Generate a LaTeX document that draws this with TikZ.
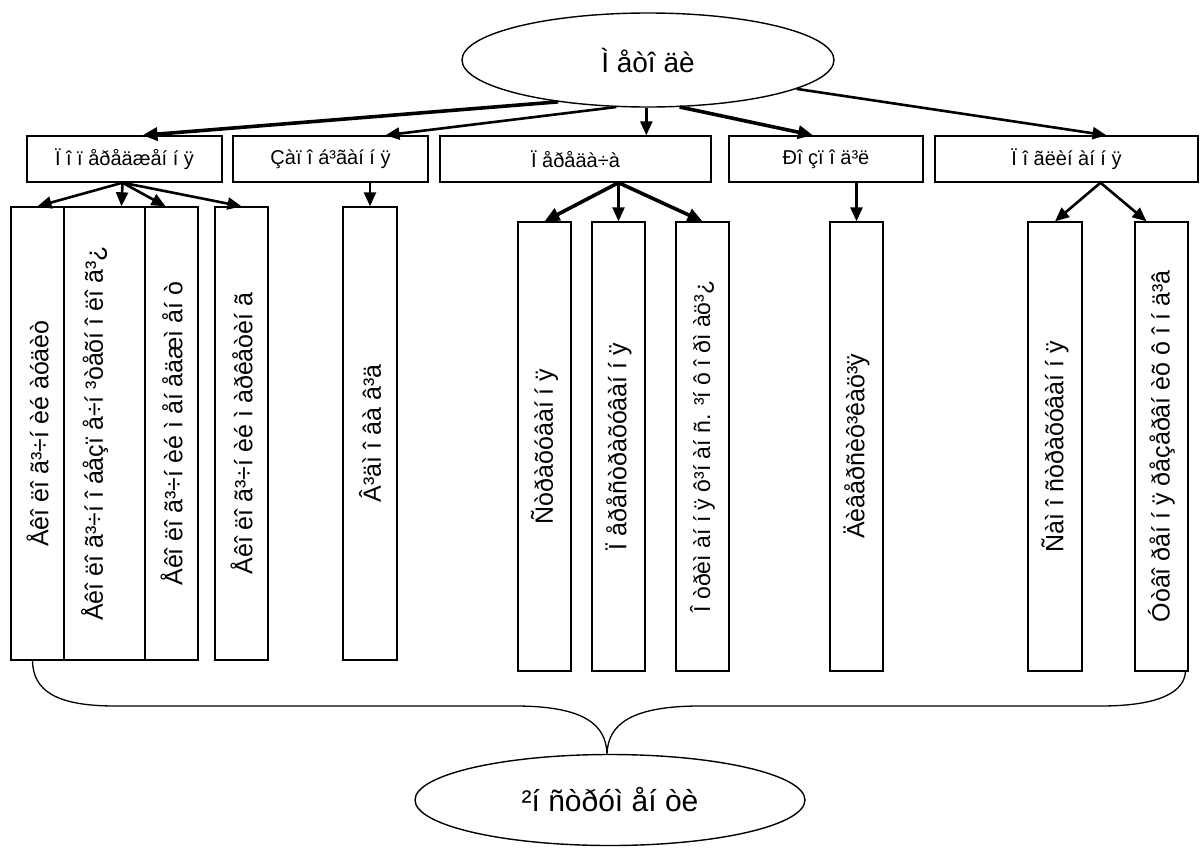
\documentclass[tikz,border=0pt]{standalone}
\usepackage{fontspec}
\setmainfont{Liberation Sans}
\usetikzlibrary{shapes.geometric,arrows.meta}
\begin{document}
\begin{tikzpicture}[x=1pt,y=-1pt,
  oval/.style={draw,line width=1.4pt,ellipse,inner sep=0pt,font=\fontsize{28}{32}\selectfont},
  hbox/.style={draw,line width=1.4pt,rectangle,inner sep=0pt,minimum height=46pt,font=\fontsize{20}{24}\selectfont},
  vbox/.style={draw,line width=1.4pt,rectangle,inner sep=0pt},
  vtext/.style={rotate=90,inner sep=0pt,font=\fontsize{25}{29}\selectfont},
  arr/.style={line width=2.6pt,-{Triangle[length=14pt,width=12pt]}},
  arrb/.style={line width=3.6pt,-{Triangle[length=15pt,width=13pt]}},
  brace/.style={line width=1.3pt}]
\useasboundingbox (0,0) rectangle (1202,849);
% top and bottom ellipses
\node[oval,minimum width=372pt,minimum height=94pt] (top) at (648,60) {Ì åòî äè};
\node[oval,minimum width=390pt,minimum height=91pt,font=\fontsize{30}{34}\selectfont] (bot) at (610,800) {²í ñòðóì åí òè};
% first row
\node[hbox,minimum width=195pt] (b1) at (124.5,159) {Ï î ï åðåäæåí í ÿ};
\node[hbox,minimum width=195pt] (b2) at (330.5,159) {Çàï î á³ãàí í ÿ};
\node[hbox,minimum width=271pt] (b3) at (575.5,159) {Ï åðåäà÷à};
\node[hbox,minimum width=194pt] (b4) at (826,159) {Ðî çï î ä³ë};
\node[hbox,minimum width=263pt] (b5) at (1066.5,159) {Ï î ãëèí àí í ÿ};
% vertical boxes
\node[vbox,minimum width=53pt,minimum height=453pt] (vA) at (37.5,433.5) {};
\node[vbox,minimum width=81pt,minimum height=453pt] (vB) at (104.5,433.5) {};
\node[vbox,minimum width=53pt,minimum height=453pt] (vC) at (171.5,433.5) {};
\node[vbox,minimum width=53pt,minimum height=453pt] (vD) at (241.5,433.5) {};
\node[vbox,minimum width=54pt,minimum height=453pt] (vE) at (370,433.5) {};
\node[vbox,minimum width=53pt,minimum height=449pt] (vF) at (544.5,446.5) {};
\node[vbox,minimum width=53pt,minimum height=449pt] (vG) at (618.5,446.5) {};
\node[vbox,minimum width=53pt,minimum height=449pt] (vH) at (702.5,446.5) {};
\node[vbox,minimum width=53pt,minimum height=449pt] (vI) at (856.5,446.5) {};
\node[vbox,minimum width=54pt,minimum height=449pt] (vJ) at (1055,446.5) {};
\node[vbox,minimum width=53pt,minimum height=449pt] (vK) at (1161.5,446.5) {};
\node[vtext] (tA) at (vA) {Åêî ëî ã³÷í èé àóäèò};
\node[vtext] (tB) at ([xshift=-10pt]vB.center) {Åêî ëî ã³÷í î  áåçï å÷í ³òåõí î ëî ã³¿};
\node[vtext] (tC) at (vC) {Åêî ëî ã³÷í èé ì åí åäæì åí ò};
\node[vtext] (tD) at (vD) {Åêî ëî ã³÷í èé ì àðêåòèí ã};
\node[vtext] (tE) at (vE) {Â³äì î âà â³ä};
\node[vtext] (tF) at (vF) {Ñòðàõóâàí í ÿ};
\node[vtext] (tG) at (vG) {Ï åðåñòðàõóâàí í ÿ};
\node[vtext,font=\fontsize{23}{27}\selectfont] (tH) at (vH) {Î òðèì àí í ÿ ô³í àí ñ. ³í ô î ðì àö³¿};
\node[vtext] (tI) at (vI) {Äèâåðñèô³êàö³ÿ};
\node[vtext] (tJ) at (vJ) {Ñàì î ñòðàõóâàí í ÿ};
\node[vtext] (tK) at (vK) {Óòâî ðåí í ÿ ðåçåðâí èõ ô î í ä³â};
% arrows from the top ellipse
\draw[arrb] (top.205) -- ([xshift=18pt]b1.north);
\draw[arr] (top.236) -- ([xshift=55pt]b2.north);
\draw[arr] (top.268) -- (top.268 |- b3.north);
\draw[arrb] (top.304) -- ([xshift=-13pt]b4.north);
\draw[arr] (top.349) -- ([xshift=40pt]b5.north);
% arrows from the first row
\draw[arr] ([xshift=-2pt]b1.south) -- (vA.north);
\draw[arr] ([xshift=-2pt]b1.south) -- ([xshift=17pt]vB.north);
\draw[arr] ([xshift=-2pt]b1.south) -- ([xshift=-6pt]vC.north);
\draw[arr] ([xshift=-2pt]b1.south) -- (vD.north);
\draw[arr] (vE.north |- b2.south) -- (vE.north);
\draw[arrb] (vG.north |- b3.south) -- (vF.north);
\draw[arr] (vG.north |- b3.south) -- (vG.north);
\draw[arrb] (vG.north |- b3.south) -- (vH.north);
\draw[arr] (vI.north |- b4.south) -- (vI.north);
\draw[arr] ([xshift=34pt]b5.south) -- (vJ.north);
\draw[arr] ([xshift=34pt]b5.south) -- ([xshift=-15pt]vK.north);
% brace
\coordinate (bl) at ([xshift=-5pt]vA.south);
\coordinate (br) at ([xshift=24pt]vK.south);
\coordinate (bt) at ([xshift=-3pt]bot.north);
\draw[brace] (bl) .. controls (33,690) and (55,706) .. (115,706) -- (515,706)
  .. controls (585,706) and (606,725) .. (bt)
  .. controls (608,725) and (630,706) .. (700,706) -- (1100,706)
  .. controls (1160,706) and (1184,692) .. (br);
\end{tikzpicture}
\end{document}
